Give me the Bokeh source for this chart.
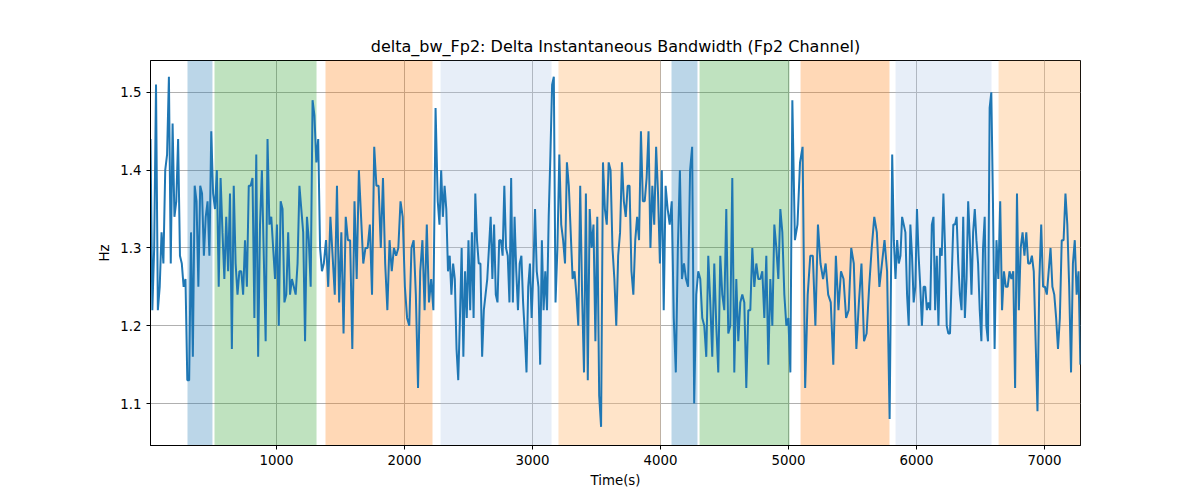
import numpy as np
from bokeh.plotting import figure
from bokeh.models import BoxAnnotation, Range1d, FixedTicker
from bokeh.embed import file_html
from bokeh.resources import INLINE

# segment boundaries (s) and the values read inside each segment
seg_edges = [16, 505, 1370, 2260, 3180, 4040, 4295, 5030, 5810, 6610, 7280]
seg_values = [
    [1.44, 1.22, 1.30, 1.51, 1.22, 1.25, 1.32, 1.28, 1.40, 1.42, 1.52, 1.28, 1.46, 1.34, 1.36, 1.44, 1.29,
     1.28, 1.25, 1.26, 1.13, 1.13, 1.32, 1.16, 1.38, 1.36, 1.25, 1.38, 1.37, 1.29, 1.34, 1.36, 1.29, 1.45],
    [1.37, 1.35, 1.40, 1.25, 1.39, 1.32, 1.26, 1.34, 1.27, 1.37, 1.17, 1.38, 1.28, 1.24, 1.27, 1.27, 1.24,
     1.31, 1.25, 1.38, 1.38, 1.39, 1.21, 1.42, 1.16, 1.33, 1.40, 1.29, 1.18, 1.44, 1.33, 1.34, 1.30, 1.26,
     1.33, 1.20, 1.36, 1.35, 1.23, 1.24, 1.32, 1.24, 1.26, 1.25, 1.24, 1.28, 1.38, 1.35, 1.32, 1.18, 1.34,
     1.31, 1.25, 1.49, 1.47, 1.41, 1.44, 1.30, 1.27],
    [1.28, 1.31, 1.25, 1.34, 1.29, 1.24, 1.38, 1.23, 1.32, 1.19, 1.34, 1.31, 1.31, 1.17, 1.36, 1.26, 1.40,
     1.34, 1.28, 1.30, 1.30, 1.33, 1.24, 1.43, 1.38, 1.38, 1.30, 1.39, 1.28, 1.22, 1.31, 1.27, 1.30, 1.29,
     1.30, 1.36, 1.34, 1.25, 1.21, 1.20, 1.30, 1.31, 1.24, 1.12, 1.27, 1.31, 1.22, 1.33, 1.23, 1.26, 1.22,
     1.48],
    [1.36, 1.33, 1.40, 1.34, 1.38, 1.35, 1.27, 1.29, 1.24, 1.28, 1.26, 1.17, 1.13, 1.21, 1.30, 1.16, 1.27,
     1.21, 1.31, 1.22, 1.32, 1.21, 1.37, 1.31, 1.28, 1.28, 1.16, 1.22, 1.24, 1.26, 1.30, 1.34, 1.26, 1.33,
     1.24, 1.23, 1.31, 1.31, 1.29, 1.38, 1.30, 1.29, 1.23, 1.39, 1.23, 1.34, 1.27, 1.22, 1.28, 1.29, 1.23,
     1.19, 1.14, 1.25, 1.28, 1.21, 1.27, 1.35, 1.27, 1.25, 1.15, 1.31, 1.22, 1.27, 1.22, 1.34, 1.42, 1.51,
     1.52],
    [1.23, 1.30, 1.42, 1.33, 1.31, 1.28, 1.41, 1.38, 1.32, 1.26, 1.27, 1.24, 1.20, 1.38, 1.24, 1.14, 1.37,
     1.13, 1.35, 1.30, 1.33, 1.18, 1.34, 1.11, 1.07, 1.41, 1.35, 1.33, 1.41, 1.40, 1.30, 1.26, 1.20, 1.29,
     1.32, 1.41, 1.36, 1.34, 1.38, 1.38, 1.27, 1.24, 1.31, 1.34, 1.31, 1.45, 1.36, 1.36, 1.39, 1.45, 1.30,
     1.38, 1.33, 1.43, 1.37, 1.28, 1.40, 1.22],
    [1.38, 1.35, 1.33, 1.36, 1.21, 1.14, 1.30, 1.40, 1.26, 1.28, 1.26, 1.25, 1.40, 1.43, 1.10, 1.24],
    [1.27, 1.26, 1.21, 1.20, 1.16, 1.29, 1.23, 1.16, 1.28, 1.20, 1.14, 1.29, 1.24, 1.22, 1.35, 1.19, 1.20,
     1.39, 1.14, 1.26, 1.18, 1.23, 1.24, 1.23, 1.12, 1.22, 1.22, 1.30, 1.25, 1.28, 1.26, 1.26, 1.27, 1.21,
     1.29, 1.15, 1.26, 1.20, 1.33, 1.30, 1.26, 1.35, 1.32, 1.24, 1.20, 1.21, 1.14],
    [1.49, 1.31, 1.33, 1.41, 1.43, 1.12, 1.24, 1.29, 1.29, 1.20, 1.33, 1.28, 1.26, 1.28, 1.24, 1.23, 1.15,
     1.29, 1.22, 1.27, 1.26, 1.21, 1.22, 1.30, 1.28, 1.17, 1.23, 1.28, 1.18, 1.19, 1.25, 1.30, 1.34, 1.32,
     1.25, 1.28, 1.31, 1.27, 1.08],
    [1.42, 1.31, 1.26, 1.31, 1.28, 1.29, 1.34, 1.33, 1.32, 1.24, 1.20, 1.33, 1.29, 1.23, 1.25, 1.35, 1.29,
     1.25, 1.20, 1.25, 1.25, 1.22, 1.23, 1.22, 1.33, 1.34, 1.22, 1.29, 1.20, 1.30, 1.29, 1.37, 1.30, 1.20,
     1.19, 1.19, 1.26, 1.33, 1.33, 1.34, 1.28, 1.24, 1.22, 1.34, 1.21, 1.26, 1.36, 1.31, 1.24, 1.32, 1.35,
     1.31, 1.28, 1.22, 1.18, 1.30, 1.34, 1.20, 1.18, 1.48, 1.50, 1.36],
    [1.17, 1.31, 1.26, 1.36, 1.22, 1.27, 1.25, 1.25, 1.27, 1.26, 1.27, 1.12, 1.37, 1.22, 1.30, 1.32, 1.29,
     1.32, 1.28, 1.28, 1.29, 1.27, 1.18, 1.09, 1.26, 1.33, 1.25, 1.25, 1.24, 1.27, 1.30, 1.25, 1.24, 1.21,
     1.17, 1.21, 1.31, 1.31, 1.37, 1.33, 1.25, 1.14, 1.28, 1.31, 1.24, 1.27, 1.15],
]

# shaded bands: start, end, colour, alpha
band_start = [305, 516, 1383, 2282, 3203, 4086, 4305, 5094, 5836, 6641]
band_end = [500, 1313, 2219, 3149, 4000, 4289, 5008, 5789, 6586, 7281]
band_color = ["#1f77b4", "#2ca02c", "#ff7f0e", "#aec7e8", "#ffbb78",
              "#1f77b4", "#2ca02c", "#ff7f0e", "#aec7e8", "#ffbb78"]
band_alpha = [0.3, 0.3, 0.3, 0.3, 0.4, 0.3, 0.3, 0.3, 0.3, 0.4]

t, y = [], []
for i, vals in enumerate(seg_values):
    last = i == len(seg_values) - 1
    t.extend(np.linspace(seg_edges[i], seg_edges[i + 1], len(vals), endpoint=last))
    y.extend(vals)

p = figure(width=1192, height=492, output_backend="svg", toolbar_location=None,
           title="delta_bw_Fp2: Delta Instantaneous Bandwidth (Fp2 Channel)",
           x_axis_label="Time(s)", y_axis_label="Hz",
           x_range=Range1d(16, 7281), y_range=Range1d(1.046, 1.541),
           min_border_left=150, min_border_right=112, min_border_top=60, min_border_bottom=47)

for s, e, c, a in zip(band_start, band_end, band_color, band_alpha):
    p.add_layout(BoxAnnotation(left=s, right=e, fill_color=c, fill_alpha=a, line_alpha=0, level="underlay"))

p.line(t, y, line_color="#1f77b4", line_width=2)

p.title.align = "center"
p.title.text_font = "DejaVu Sans"
p.title.text_font_style = "normal"
p.title.text_font_size = "12pt"
p.title.text_color = "black"
p.xaxis.ticker = FixedTicker(ticks=[1000, 2000, 3000, 4000, 5000, 6000, 7000])
p.yaxis.ticker = FixedTicker(ticks=[1.1, 1.2, 1.3, 1.4, 1.5])
for ax in (p.xaxis, p.yaxis):
    ax.axis_label_text_font = "DejaVu Sans"
    ax.axis_label_text_font_style = "normal"
    ax.axis_label_text_font_size = "10pt"
    ax.axis_label_text_color = "black"
    ax.major_label_text_font = "DejaVu Sans"
    ax.major_label_text_font_size = "10pt"
    ax.major_label_text_color = "black"
    ax.minor_tick_line_color = None
    ax.major_tick_out = 4
    ax.major_tick_in = 0
    ax.axis_line_color = "black"
p.xgrid.grid_line_color = "#b0b0b0"
p.ygrid.grid_line_color = "#b0b0b0"
p.outline_line_color = "black"
p.outline_line_alpha = 1

open("out.html", "w").write(file_html(p, INLINE))
